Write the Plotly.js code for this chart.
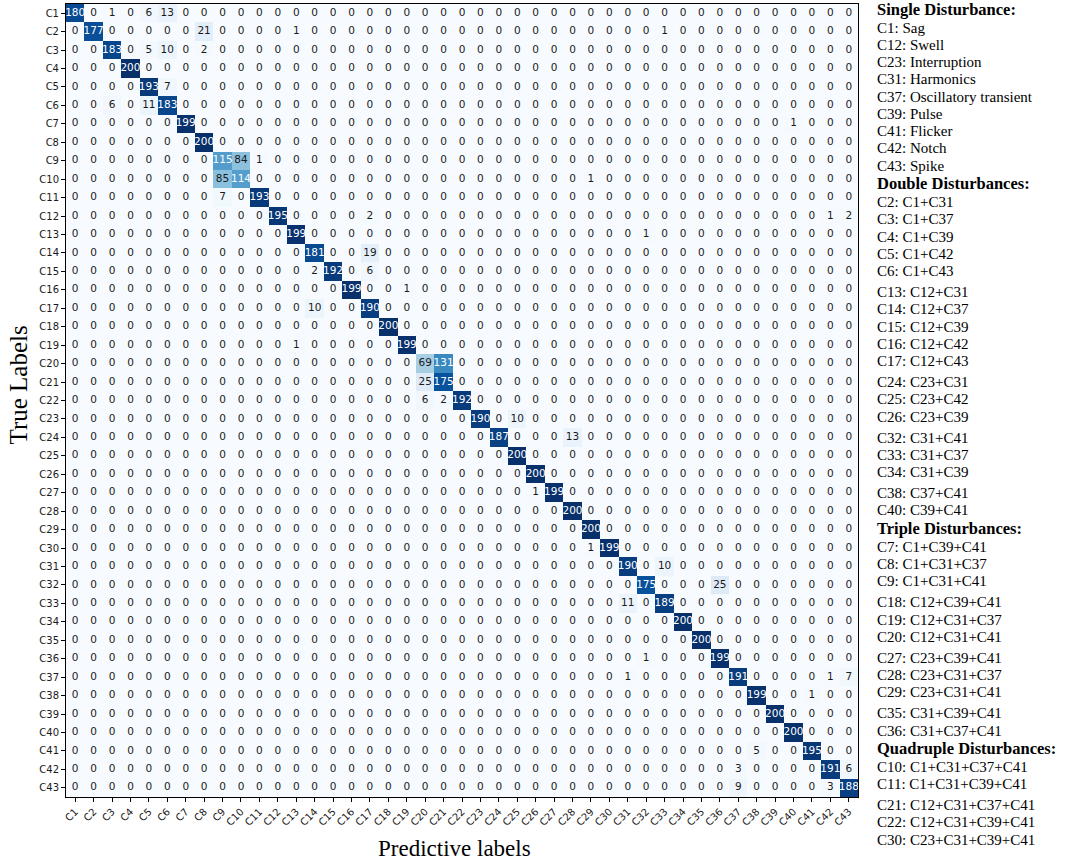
<!DOCTYPE html>
<html>
<head>
<meta charset="utf-8">
<script src="https://cdn.plot.ly/plotly-3.0.1.min.js"></script>
<style>
  body { margin: 0; background: #fff; }
  #cmChart { width: 1065px; height: 860px; }
</style>
</head>
<body>
<div id="cmChart"></div>
<script>
// class labels C1..C43
const classLabels = ['C1','C2','C3','C4','C5','C6','C7','C8','C9','C10','C11','C12','C13','C14','C15',
    'C16','C17','C18','C19','C20','C21','C22','C23','C24','C25','C26','C27','C28','C29','C30',
    'C31','C32','C33','C34','C35','C36','C37','C38','C39','C40','C41','C42','C43'];

// diagonal (correctly classified) counts, row by row
const correctCounts = [180, 177, 183, 200, 193, 183, 199, 200, 115, 114, 193, 195, 199, 181, 192,
    199, 190, 200, 199, 69, 175, 192, 190, 187, 200, 200, 199, 200, 200, 199,
    190, 175, 189, 200, 200, 199, 191, 199, 200, 200, 195, 191, 188];

// off-diagonal cells: [true label, predicted label, count]
const confusions = [
    ['C1','C3',1], ['C1','C5',6], ['C1','C6',13],
    ['C2','C8',21], ['C2','C13',1], ['C2','C33',1],
    ['C3','C5',5], ['C3','C6',10], ['C3','C8',2],
    ['C5','C6',7],
    ['C6','C3',6], ['C6','C5',11],
    ['C7','C40',1],
    ['C9','C10',84], ['C9','C11',1],
    ['C10','C9',85], ['C10','C29',1],
    ['C11','C9',7],
    ['C12','C17',2], ['C12','C42',1], ['C12','C43',2],
    ['C13','C32',1],
    ['C14','C17',19],
    ['C15','C14',2], ['C15','C17',6],
    ['C16','C19',1],
    ['C17','C14',10],
    ['C19','C13',1],
    ['C20','C21',131],
    ['C21','C20',25],
    ['C22','C20',6], ['C22','C21',2],
    ['C23','C25',10],
    ['C24','C28',13],
    ['C27','C26',1],
    ['C30','C29',1],
    ['C31','C33',10],
    ['C32','C36',25],
    ['C33','C31',11],
    ['C36','C32',1],
    ['C37','C31',1], ['C37','C42',1], ['C37','C43',7],
    ['C38','C41',1],
    ['C41','C38',5],
    ['C42','C37',3], ['C42','C43',6],
    ['C43','C37',9], ['C43','C42',3]
];

// key on the right side
const singleKey = [['C1: Sag','C12: Swell','C23: Interruption','C31: Harmonics','C37: Oscillatory transient',
    'C39: Pulse','C41: Flicker','C42: Notch','C43: Spike']];
const doubleKey = [['C2: C1+C31','C3: C1+C37','C4: C1+C39','C5: C1+C42','C6: C1+C43'],
    ['C13: C12+C31','C14: C12+C37','C15: C12+C39','C16: C12+C42','C17: C12+C43'],
    ['C24: C23+C31','C25: C23+C42','C26: C23+C39'],
    ['C32: C31+C41','C33: C31+C37','C34: C31+C39'],
    ['C38: C37+C41','C40: C39+C41']];
const tripleKey = [['C7: C1+C39+C41','C8: C1+C31+C37','C9: C1+C31+C41'],
    ['C18: C12+C39+C41','C19: C12+C31+C37','C20: C12+C31+C41'],
    ['C27: C23+C39+C41','C28: C23+C31+C37','C29: C23+C31+C41'],
    ['C35: C31+C39+C41','C36: C31+C37+C41']];
const quadKey = [['C10: C1+C31+C37+C41','C11: C1+C31+C39+C41'],
    ['C21: C12+C31+C37+C41','C22: C12+C31+C39+C41','C30: C23+C31+C39+C41']];

function cmChart(){
    var CHART = document.getElementById('cmChart');
    var n = classLabels.length;

    // build the matrix
    var z = [];
    for (var i = 0; i < n; i++) {
        var row = [];
        for (var j = 0; j < n; j++) row.push(i === j ? correctCounts[i] : 0);
        z.push(row);
    }
    confusions.forEach(function(c){
        z[classLabels.indexOf(c[0])][classLabels.indexOf(c[1])] = c[2];
    });

    // cell text, white on dark cells like matplotlib (thresh = max/2)
    var thresh = 100;
    var dark = {x: [], y: [], text: []}, light = {x: [], y: [], text: []};
    for (var i = 0; i < n; i++) {
        for (var j = 0; j < n; j++) {
            var t = z[i][j] > thresh ? dark : light;
            t.x.push(classLabels[j]);
            t.y.push(classLabels[i]);
            t.text.push(String(z[i][j]));
        }
    }

    var blues = [
        [0, '#f7fbff'], [0.125, '#deebf7'], [0.25, '#c6dbef'], [0.375, '#9ecae1'],
        [0.5, '#6baed6'], [0.625, '#4292c6'], [0.75, '#2171b5'], [0.875, '#08519c'], [1, '#08306b']
    ];

    var heat = {
        type: 'heatmap',
        x: classLabels,
        y: classLabels,
        z: z,
        zmin: 0,
        zmax: 200,
        colorscale: blues,
        showscale: false,
        hoverinfo: 'skip'
    };

    var cellFont = {family: 'DejaVu Sans, sans-serif', size: 10.5};
    var blackText = {
        type: 'scatter', mode: 'text',
        x: light.x, y: light.y, text: light.text,
        textfont: Object.assign({color: '#1a1a1a'}, cellFont),
        hoverinfo: 'skip', cliponaxis: false
    };
    var whiteText = {
        type: 'scatter', mode: 'text',
        x: dark.x, y: dark.y, text: dark.text,
        textfont: Object.assign({color: '#ffffff'}, cellFont),
        hoverinfo: 'skip', cliponaxis: false
    };

    // key annotations, walked down from the top (pixel offsets from plot top)
    var annots = [];
    var top = 4;
    var yPix = 9.5;
    var lineStep = 17.25, setGap = 21, headStep = 18.2;
    var serif = 'Liberation Serif, Times New Roman, serif';
    function addLine(txt, bold){
        annots.push({
            xref: 'paper', yref: 'paper', x: 1, y: 1,
            xshift: 17, yshift: -(yPix - top),
            xanchor: 'left', yanchor: 'middle',
            text: bold ? '<b>' + txt + '</b>' : txt,
            showarrow: false,
            font: {family: serif, size: bold ? 16.5 : 15, color: '#000'}
        });
    }
    var groups = [['Single Disturbance:', singleKey], ['Double Disturbances:', doubleKey],
        ['Triple Disturbances:', tripleKey], ['Quadruple Disturbances:', quadKey]];
    groups.forEach(function(g, gi){
        if (gi > 0) yPix += headStep;
        addLine(g[0], true);
        g[1].forEach(function(set, si){
            set.forEach(function(line, li){
                if (li === 0) yPix += (si === 0 ? headStep : setGap);
                else yPix += lineStep;
                addLine(line, false);
            });
        });
    });

    // axis titles
    annots.push({
        xref: 'paper', yref: 'paper', x: 0.5, y: 0, xshift: -8, yshift: -51,
        xanchor: 'center', yanchor: 'middle', showarrow: false,
        text: 'Predictive labels', font: {family: serif, size: 23, color: '#000'}
    });
    annots.push({
        xref: 'paper', yref: 'paper', x: 0, y: 0.5, xshift: -48, yshift: 15,
        xanchor: 'center', yanchor: 'middle', showarrow: false, textangle: -90,
        text: 'True Labels', font: {family: serif, size: 25, color: '#000'}
    });

    var tickFont = {family: 'DejaVu Sans, sans-serif', size: 10, color: '#1a1a1a'};
    var layout = {
        width: 1065,
        height: 860,
        margin: {l: 66, r: 207, t: 4, b: 63},
        paper_bgcolor: '#fff',
        plot_bgcolor: '#fff',
        showlegend: false,
        xaxis: {
            type: 'category',
            categoryarray: classLabels,
            range: [-0.5, n - 0.5],
            tickangle: -45,
            ticks: 'outside', ticklen: 4, tickcolor: '#000', tickwidth: 1,
            tickfont: tickFont,
            showline: true, mirror: true, linecolor: '#000', linewidth: 1,
            showgrid: false, zeroline: false, fixedrange: true
        },
        yaxis: {
            type: 'category',
            categoryarray: classLabels,
            range: [n - 0.5, -0.5],
            ticks: 'outside', ticklen: 4, tickcolor: '#000', tickwidth: 1,
            tickfont: tickFont,
            showline: true, mirror: true, linecolor: '#000', linewidth: 1,
            showgrid: false, zeroline: false, fixedrange: true
        },
        annotations: annots
    };

    var config = {displayModeBar: false, staticPlot: true};

    Plotly.newPlot(CHART, [heat, blackText, whiteText], layout, config);
}

cmChart();
</script>
</body>
</html>
